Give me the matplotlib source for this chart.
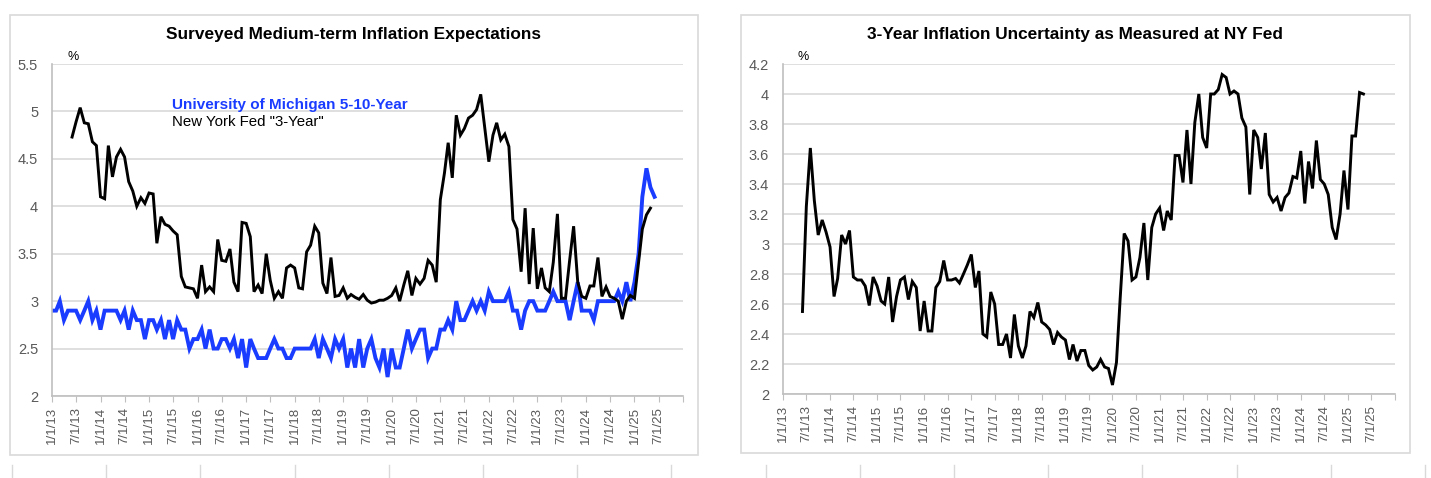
import numpy as np
import pandas as pd
import matplotlib
matplotlib.use('Agg')
import matplotlib.pyplot as plt
from matplotlib.patches import Rectangle
from matplotlib.lines import Line2D

plt.rcParams['font.family'] = ['Liberation Sans', 'DejaVu Sans']

# monthly data, Michigan from 1/2013, NY Fed series from 6/2013
mich_start = '2013-01-01'
mich_5_10 = [2.9, 2.9, 3.0, 2.8, 2.9, 2.9, 2.9, 2.8, 2.9, 3.0, 2.8, 2.9,
             2.7, 2.9, 2.9, 2.9, 2.9, 2.8, 2.9, 2.7, 2.9, 2.8, 2.8, 2.6,
             2.8, 2.8, 2.7, 2.8, 2.6, 2.8, 2.6, 2.8, 2.7, 2.7, 2.5, 2.6,
             2.6, 2.7, 2.5, 2.7, 2.5, 2.5, 2.6, 2.6, 2.5, 2.6, 2.4, 2.6,
             2.3, 2.6, 2.5, 2.4, 2.4, 2.4, 2.5, 2.6, 2.5, 2.5, 2.4, 2.4,
             2.5, 2.5, 2.5, 2.5, 2.5, 2.6, 2.4, 2.6, 2.5, 2.4, 2.6, 2.5,
             2.6, 2.3, 2.5, 2.3, 2.6, 2.3, 2.5, 2.6, 2.4, 2.3, 2.5, 2.2,
             2.5, 2.3, 2.3, 2.5, 2.7, 2.5, 2.6, 2.7, 2.7, 2.4, 2.5, 2.5,
             2.7, 2.7, 2.8, 2.7, 3.0, 2.8, 2.8, 2.9, 3.0, 2.9, 3.0, 2.9,
             3.1, 3.0, 3.0, 3.0, 3.0, 3.1, 2.9, 2.9, 2.7, 2.9, 3.0, 3.0,
             2.9, 2.9, 2.9, 3.0, 3.1, 3.0, 3.0, 3.0, 2.8, 3.0, 3.2, 2.9,
             2.9, 2.9, 2.8, 3.0, 3.0, 3.0, 3.0, 3.0, 3.1, 3.0, 3.2, 3.0,
             3.2, 3.5, 4.1, 4.4, 4.2, 4.1]

nyfed_start = '2013-06-01'
nyfed_3yr = [4.73, 4.89, 5.04, 4.88, 4.87, 4.68, 4.64,
             4.10, 4.08, 4.64, 4.31, 4.52, 4.60, 4.52, 4.26, 4.16, 4.00, 4.09, 4.03,
             4.14, 4.13, 3.61, 3.89, 3.81, 3.79, 3.74, 3.70, 3.26, 3.15, 3.14, 3.13,
             3.03, 3.38, 3.10, 3.15, 3.10, 3.65, 3.43, 3.42, 3.55, 3.20, 3.10, 3.83,
             3.82, 3.68, 3.10, 3.17, 3.08, 3.50, 3.22, 3.03, 3.10, 3.03, 3.35, 3.38,
             3.35, 3.14, 3.13, 3.52, 3.59, 3.79, 3.72, 3.19, 3.08, 3.46, 3.05, 3.06,
             3.14, 3.03, 3.07, 3.04, 3.02, 3.07, 3.01, 2.98, 2.99, 3.01, 3.01, 3.03,
             3.06, 3.14, 3.00, 3.17, 3.32, 3.06, 3.24, 3.18, 3.24, 3.43, 3.38, 3.20,
             4.07, 4.35, 4.67, 4.30, 4.96, 4.75, 4.82, 4.93, 4.96, 5.02, 5.18, 4.83,
             4.47, 4.75, 4.88, 4.70, 4.76, 4.63, 3.86, 3.76, 3.31, 3.98, 3.18, 3.77,
             3.13, 3.35, 3.14, 3.10, 3.41, 3.92, 3.03, 3.03, 3.43, 3.79, 3.20, 3.05,
             3.03, 3.16, 3.16, 3.46, 3.05, 3.15, 3.05, 3.03, 3.00, 2.81, 3.00, 3.06,
             3.03, 3.41, 3.76, 3.91, 3.98]

nyfed_uncert = [2.55, 3.25, 3.64, 3.29, 3.06, 3.16, 3.08,
                2.98, 2.65, 2.77, 3.06, 3.00, 3.09, 2.78, 2.76, 2.76, 2.72, 2.59, 2.78,
                2.72, 2.62, 2.60, 2.78, 2.48, 2.65, 2.76, 2.78, 2.63, 2.75, 2.71, 2.42,
                2.62, 2.42, 2.42, 2.71, 2.75, 2.89, 2.76, 2.76, 2.77, 2.74, 2.80, 2.86,
                2.93, 2.71, 2.82, 2.40, 2.38, 2.68, 2.60, 2.33, 2.33, 2.40, 2.24, 2.53,
                2.32, 2.24, 2.32, 2.55, 2.51, 2.61, 2.48, 2.46, 2.43, 2.33, 2.41, 2.38,
                2.36, 2.23, 2.33, 2.22, 2.29, 2.29, 2.19, 2.16, 2.18, 2.23, 2.18, 2.17,
                2.06, 2.21, 2.64, 3.07, 3.02, 2.76, 2.78, 2.91, 3.14, 2.76, 3.11, 3.20,
                3.24, 3.09, 3.22, 3.16, 3.59, 3.59, 3.41, 3.76, 3.40, 3.81, 4.00, 3.71,
                3.64, 4.00, 4.00, 4.03, 4.13, 4.11, 4.00, 4.02, 4.00, 3.84, 3.78, 3.33,
                3.76, 3.71, 3.50, 3.74, 3.33, 3.28, 3.31, 3.22, 3.31, 3.34, 3.45, 3.44,
                3.62, 3.27, 3.55, 3.37, 3.69, 3.43, 3.40, 3.33, 3.11, 3.03, 3.20, 3.49,
                3.23, 3.72, 3.72, 4.01, 4.00]

left_title = 'Surveyed Medium-term Inflation Expectations'
right_title = '3-Year Inflation Uncertainty as Measured at NY Fed'
mich_label = 'University of Michigan 5-10-Year'
nyfed_label = 'New York Fed "3-Year"'

left_yticks = [2, 2.5, 3, 3.5, 4, 4.5, 5, 5.5]
right_yticks = [2, 2.2, 2.4, 2.6, 2.8, 3, 3.2, 3.4, 3.6, 3.8, 4, 4.2]

mich_dates = pd.date_range(mich_start, periods=len(mich_5_10), freq='MS')
nyfed_dates = pd.date_range(nyfed_start, periods=len(nyfed_3yr), freq='MS')
unc_dates = pd.date_range(nyfed_start, periods=len(nyfed_uncert), freq='MS')

tick_dates = pd.date_range('2013-01-01', '2025-07-01', freq='6MS')
tick_labels = [f'{d.month}/{d.day}/{d.year % 100}' for d in tick_dates]
x_end = pd.Timestamp('2026-01-01')

blue = '#1a3cff'
grid_c = '#d9d9d9'
axis_c = '#bfbfbf'
label_c = '#595959'

fig = plt.figure(figsize=(14.31, 4.78), dpi=100)
W, H = 1431, 478


def fx(px):
    return px / W


def fy(py):
    return 1 - py / H


# chart frames
fig.patches.append(Rectangle((fx(10), fy(455)), fx(688), (455 - 15) / H,
                             transform=fig.transFigure, fill=False,
                             edgecolor=grid_c, lw=1.2))
fig.patches.append(Rectangle((fx(741), fy(453)), fx(669), (453 - 15) / H,
                             transform=fig.transFigure, fill=False,
                             edgecolor=grid_c, lw=1.2))

# spreadsheet column lines below the charts
for px in np.arange(12, 1431, 94.2):
    fig.add_artist(Line2D([fx(px), fx(px)], [fy(465), 0],
                          transform=fig.transFigure, color=grid_c, lw=1))

ax1 = fig.add_axes([fx(52), fy(396), fx(683 - 52), (396 - 64) / H])
ax2 = fig.add_axes([fx(783), fy(394), fx(1395 - 783), (394 - 64) / H])


def style(ax, yticks):
    ax.set_xlim(tick_dates[0], x_end)
    ax.set_ylim(yticks[0], yticks[-1])
    ax.set_yticks(yticks)
    ax.set_yticklabels([f'{v:g}' for v in yticks])
    ax.set_xticks(list(tick_dates) + [x_end])
    ax.set_xticklabels(tick_labels + [''], rotation=90)
    ax.grid(axis='y', color=grid_c, lw=1.2)
    ax.set_axisbelow(True)
    for s in ['top', 'right']:
        ax.spines[s].set_visible(False)
    for s in ['left', 'bottom']:
        ax.spines[s].set_color(axis_c)
        ax.spines[s].set_linewidth(1.2)
    ax.tick_params(axis='y', length=0, pad=10, labelsize=10.5, labelcolor=label_c)
    ax.tick_params(axis='x', length=4, color=axis_c, pad=4, labelsize=9.5,
                   labelcolor=label_c)


style(ax1, left_yticks)
style(ax2, right_yticks)

ax1.plot(mich_dates, mich_5_10, color=blue, lw=2.8, solid_joinstyle='miter')
ax1.plot(nyfed_dates, nyfed_3yr, color='black', lw=2.1, solid_joinstyle='miter')
ax2.plot(unc_dates, nyfed_uncert, color='black', lw=2.1, solid_joinstyle='miter')

fig.text(fx(354), fy(35), left_title, ha='center', va='center',
         fontsize=12.4, fontweight='bold')
fig.text(fx(1075), fy(35), right_title, ha='center', va='center',
         fontsize=12.4, fontweight='bold')
fig.text(fx(73), fy(57), '%', ha='center', va='center', fontsize=9)
fig.text(fx(803), fy(57), '%', ha='center', va='center', fontsize=9)

fig.text(fx(172), fy(105), mich_label, ha='left', va='center',
         fontsize=11, fontweight='bold', color=blue)
fig.text(fx(172), fy(122), nyfed_label, ha='left', va='center', fontsize=10.8)

fig.savefig('out.png', dpi=100)
